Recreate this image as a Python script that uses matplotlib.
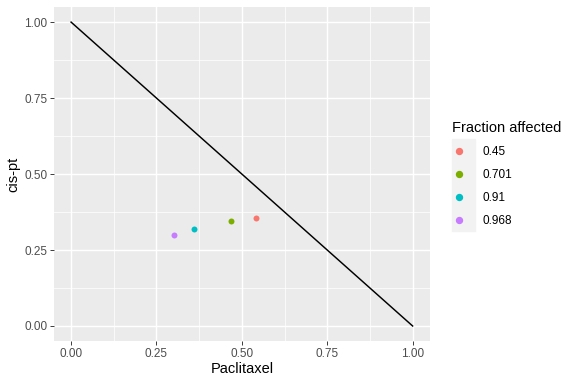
import matplotlib.pyplot as plt
from matplotlib.patches import Rectangle
from matplotlib.lines import Line2D
import numpy as np

plt.rcParams['font.family'] = ['Liberation Sans', 'DejaVu Sans']

# data
paclitaxel = [0.542, 0.467, 0.361, 0.300]
cispt = [0.356, 0.346, 0.318, 0.300]
fraction = ['0.45', '0.701', '0.91', '0.968']
colors = ['#F8766D', '#7CAE00', '#00BFC4', '#C77CFF']
line_x = [0, 1]
line_y = [1, 0]
ticks = [0, 0.25, 0.5, 0.75, 1.0]
tick_labels = ['0.00', '0.25', '0.50', '0.75', '1.00']

fig = plt.figure(figsize=(6, 4), dpi=96)
ax = fig.add_axes([0.09375, 0.1115, 0.746 - 0.09375, 0.982 - 0.1115])
ax.set_facecolor('#EBEBEB')
for s in ax.spines.values():
    s.set_visible(False)

ax.set_xlim(-0.05, 1.05)
ax.set_ylim(-0.05, 1.05)
ax.set_xticks(ticks)
ax.set_xticklabels(tick_labels)
ax.set_yticks(ticks)
ax.set_yticklabels(tick_labels)
ax.set_xticks(np.arange(0.125, 1.0, 0.25), minor=True)
ax.set_yticks(np.arange(0.125, 1.0, 0.25), minor=True)
ax.grid(which='major', color='white', lw=1.1)
ax.grid(which='minor', color='white', lw=0.55)
ax.set_axisbelow(True)
ax.tick_params(which='major', length=2.75, width=0.7, color='#333333',
               labelsize=8.8, labelcolor='#4D4D4D', pad=2)
ax.tick_params(which='minor', length=0)

ax.plot(line_x, line_y, color='black', lw=1.1)
for x, y, c in zip(paclitaxel, cispt, colors):
    ax.scatter(x, y, s=20, color=c, zorder=3, linewidths=0)

ax.set_xlabel('Paclitaxel', fontsize=11, labelpad=2)
ax.set_ylabel('cis-pt', fontsize=11, labelpad=3)

# legend
handles = [Line2D([], [], marker='o', ls='', color=c, markersize=4.5) for c in colors]
leg = fig.legend(handles, fraction, title='Fraction affected', loc='upper left',
                 bbox_to_anchor=(447 / 576, 1 - 116 / 384), frameon=False,
                 fontsize=8.8, title_fontsize=11, handlelength=1.2,
                 handletextpad=1.4, labelspacing=0.95, borderaxespad=0)
leg._legend_box.align = 'left'
fig.add_artist(Rectangle((452 / 576, 1 - 231 / 384), 23 / 576, 92 / 384,
                         transform=fig.transFigure, color='#F2F2F2', zorder=0))

fig.savefig('out.png', dpi=96)
